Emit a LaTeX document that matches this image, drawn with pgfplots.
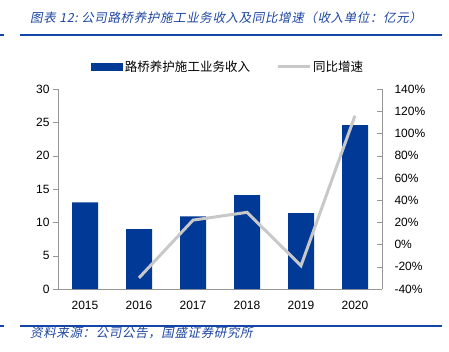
\documentclass[border=0pt]{standalone}
\usepackage{pgfplots}
\pgfplotsset{compat=1.18}
\usepackage{fontspec}
\setmainfont{Liberation Sans}
\newfontfamily\cjk{Noto Sans CJK SC}
\newfontfamily\cjkit{Noto Sans CJK SC}[FakeSlant=0.2, LetterSpace=5]
\definecolor{barblue}{RGB}{0,57,150}
\definecolor{titleblue}{RGB}{30,70,160}
\definecolor{ruleblue}{RGB}{20,70,170}
\definecolor{linegray}{RGB}{200,200,200}
\definecolor{axgray}{RGB}{150,150,150}
\begin{document}
\begin{tikzpicture}[x=1pt,y=1pt]
\path[use as bounding box] (0,0) rectangle (449,351);
\node[anchor=west, inner sep=0, text=titleblue, font=\cjkit\fontsize{12.5}{14}\selectfont] at (30,333) {图表 12:\ 公司路桥养护施工业务收入及同比增速（收入单位：亿元）};
\draw[ruleblue, line width=1.3] (20,316) -- (442,316);
\draw[ruleblue, line width=1.3] (0,316) -- (4,316);
\draw[ruleblue, line width=1.3] (20,25) -- (442,25);
\draw[ruleblue, line width=1.3] (0,25) -- (4,25);
\node[anchor=west, inner sep=0, text=titleblue, font=\cjkit\fontsize{12.5}{14}\selectfont] at (30,18) {资料来源：公司公告，国盛证券研究所};
\begin{axis}[
  at={(58pt,62pt)}, anchor=south west, scale only axis,
  width=324pt, height=200pt,
  xmin=-0.5, xmax=5.5, ymin=0, ymax=30,
  ytick={0,5,...,30},
  xtick={0,...,5}, xticklabels={2015,2016,2017,2018,2019,2020},
  axis x line=bottom, axis y line=left,
  axis line style={-, axgray},
  x tick style={draw=none},
  y tick style={axgray},
  tick align=outside, major tick length=5pt,
  ticklabel style={font=\fontsize{12}{14}\selectfont},
  xticklabel style={yshift=-4pt},
  /pgf/number format/assume math mode=true,
  legend style={at={(0.5,1)}, anchor=south, yshift=12pt, xshift=8pt, draw=none, fill=none,
    legend columns=2, font=\cjk\fontsize{12.5}{14}\selectfont,
    /tikz/every even column/.append style={column sep=24pt}},
  legend cell align=left,
]
\addplot[ybar, bar width=26pt, fill=barblue, draw=none,
  legend image code/.code={\fill[barblue] (0pt,-4pt) rectangle (32pt,4pt);}]
  coordinates {(0,13.0) (1,9.0) (2,10.9) (3,14.1) (4,11.4) (5,24.6)};
\addlegendentry{路桥养护施工业务收入}
\addlegendimage{linegray, line width=3pt, legend image code/.code={\draw[linegray, line width=3pt] (0pt,0pt) -- (32pt,0pt);}}
\addlegendentry{同比增速}
\end{axis}
\begin{axis}[
  at={(58pt,62pt)}, anchor=south west, scale only axis,
  width=324pt, height=200pt,
  xmin=-0.5, xmax=5.5, ymin=-40, ymax=140,
  ytick={-40,-20,...,140},
  axis x line=none, axis y line=right,
  axis line style={-, axgray},
  y tick style={axgray},
  tick align=inside, major tick length=5pt,
  yticklabel={\pgfmathprintnumber{\tick}\%},
  ticklabel style={font=\fontsize{12}{14}\selectfont},
  yticklabel style={xshift=9pt},
  /pgf/number format/assume math mode=true,
]
\addplot[linegray, line width=3pt] coordinates {(1,-30) (2,22) (3,29) (4,-19) (5,116)};
\end{axis}
\end{tikzpicture}
\end{document}
